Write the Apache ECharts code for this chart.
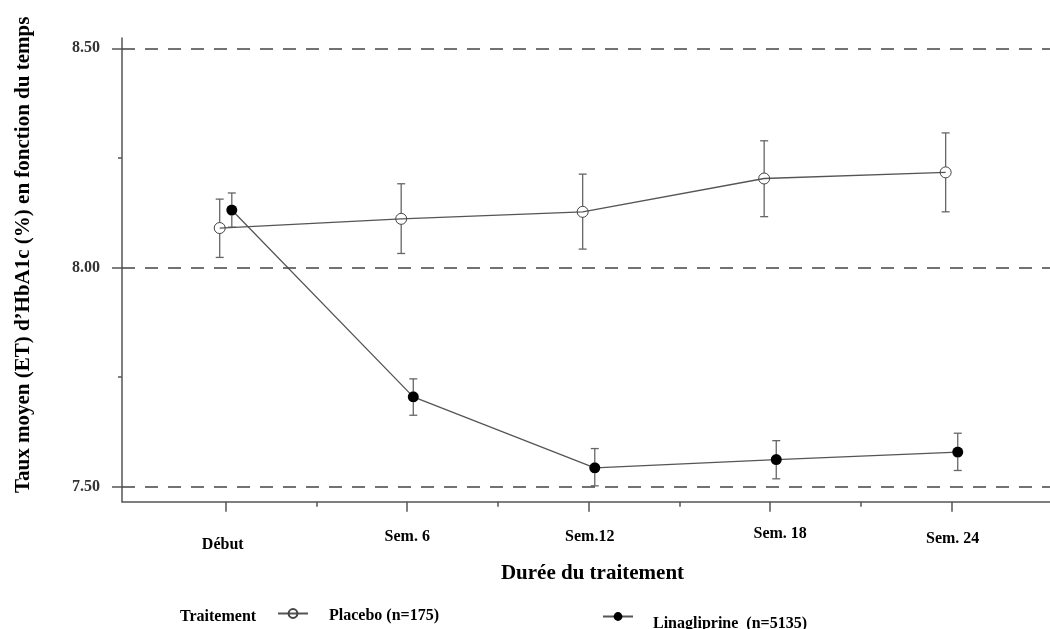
<!DOCTYPE html>
<html>
<head>
<meta charset="utf-8">
<script src="https://cdn.jsdelivr.net/npm/echarts@6/dist/echarts.min.js"></script>
<style>html,body{margin:0;padding:0;background:#fff}#c{width:1050px;height:629px}</style>
</head>
<body>
<div id="c"></div>
<script>
const weeks = [0, 6, 12, 18, 24];
const categories = ['Début', 'Sem. 6', 'Sem.12', 'Sem. 18', 'Sem. 24'];
const placeboMean = [8.090, 8.111, 8.127, 8.203, 8.217];
const placeboLow  = [8.023, 8.032, 8.042, 8.116, 8.127];
const placeboHigh = [8.156, 8.191, 8.213, 8.289, 8.307];
const linaMean = [8.131, 7.705, 7.543, 7.562, 7.579];
const linaLow  = [8.092, 7.663, 7.502, 7.518, 7.537];
const linaHigh = [8.170, 7.746, 7.587, 7.605, 7.622];
const yMajorTicks = [7.5, 8.0, 8.5];
const yMinorTicks = [7.75, 8.25];
const xMinorTicks = [3, 9, 15, 21];
const yLabels = ['7.50', '8.00', '8.50'];
const placeboName = 'Placebo (n=175)';
const linaName = 'Linagliprine  (n=5135)';

const FONT = '"Liberation Serif", "DejaVu Serif", serif';
const DODGE = 0.2;
const YMIN = 7.4658, YMAX = 8.5235, XMIN = -3.43, XMAX = 27.25;

const placeboPts = weeks.map((w, i) => [w - DODGE, placeboMean[i]]);
const linaPts = weeks.map((w, i) => [w + DODGE, linaMean[i]]);
const placeboErr = weeks.map((w, i) => [w - DODGE, placeboMean[i], placeboLow[i], placeboHigh[i]]);
const linaErr = weeks.map((w, i) => [w + DODGE, linaMean[i], linaLow[i], linaHigh[i]]);

function errRender(params, api) {
  const x = api.value(0), m = api.value(1), lo = api.value(2), hi = api.value(3);
  const pm = api.coord([x, m]), pl = api.coord([x, lo]), ph = api.coord([x, hi]);
  const r = 5.5, w = 4;
  const st = { stroke: '#666', lineWidth: 1.3 };
  return { type: 'group', children: [
    { type: 'line', shape: { x1: pm[0], y1: ph[1], x2: pm[0], y2: pm[1] - r }, style: st },
    { type: 'line', shape: { x1: pm[0], y1: pm[1] + r, x2: pm[0], y2: pl[1] }, style: st },
    { type: 'line', shape: { x1: pm[0] - w, y1: ph[1], x2: pm[0] + w, y2: ph[1] }, style: st },
    { type: 'line', shape: { x1: pm[0] - w, y1: pl[1], x2: pm[0] + w, y2: pl[1] }, style: st }
  ]};
}

function tok(pad) {
  return { fontFamily: FONT, fontWeight: 'bold', fontSize: 16, color: '#000', lineHeight: 18, padding: pad };
}
const labelRich = {
  d:  tok([22, 6, 0, 0]),
  s6: tok([6, 0, 0, 0]),
  s12: tok([6, 0, 0, 2]),
  s18: tok([0, 0, 0, 20]),
  s24: tok([10, 0, 0, 2])
};
const richKeys = ['d', 's6', 's12', 's18', 's24'];

const chart = echarts.init(document.getElementById('c'), null, { renderer: 'canvas' });
chart.setOption({
  animation: false,
  backgroundColor: '#fff',
  grid: { left: 122, right: 0, top: 38, bottom: 127.3, containLabel: false },
  xAxis: [{
    type: 'value', min: XMIN, max: XMAX,
    name: 'Durée du traitement', nameLocation: 'middle', nameGap: 61,
    nameTextStyle: { fontFamily: FONT, fontWeight: 'bold', fontSize: 21, color: '#000', padding: [0, 0, 0, 13] },
    axisLine: { show: true, onZero: false, lineStyle: { color: '#555', width: 1.5 } },
    axisTick: { show: true, length: 10, customValues: weeks, lineStyle: { color: '#555', width: 1.5 } },
    axisLabel: {
      show: true, margin: 23, customValues: weeks,
      formatter: v => { const i = weeks.indexOf(v); return i < 0 ? '' : '{' + richKeys[i] + '|' + categories[i] + '}'; },
      rich: labelRich
    },
    splitLine: { show: false }
  }, {
    type: 'value', min: XMIN, max: XMAX, position: 'bottom',
    axisLine: { show: false, onZero: false },
    axisTick: { show: true, length: 5, customValues: xMinorTicks, lineStyle: { color: '#555', width: 1.5 } },
    axisLabel: { show: false },
    splitLine: { show: false }
  }],
  yAxis: [{
    type: 'value', min: YMIN, max: YMAX,
    name: 'Taux moyen (ET) d’HbA1c (%) en fonction du temps', nameLocation: 'middle', nameGap: 88, nameRotate: 90,
    nameTextStyle: { fontFamily: FONT, fontWeight: 'bold', fontSize: 21, color: '#000', padding: [0, 0, 0, 30] },
    axisLine: { show: true, onZero: false, lineStyle: { color: '#555', width: 1.5 } },
    axisTick: { show: true, length: 10, customValues: yMajorTicks, lineStyle: { color: '#555', width: 1.5 } },
    axisLabel: {
      show: true, margin: 22, customValues: yMajorTicks,
      formatter: v => { const i = yMajorTicks.findIndex(t => Math.abs(t - v) < 1e-6); return i < 0 ? '' : yLabels[i]; },
      fontFamily: FONT, fontWeight: 'bold', fontSize: 16, color: '#333'
    },
    splitLine: { show: false }
  }, {
    type: 'value', min: YMIN, max: YMAX, position: 'left',
    axisLine: { show: false, onZero: false },
    axisTick: { show: true, length: 4, customValues: yMinorTicks, lineStyle: { color: '#555', width: 1.5 } },
    axisLabel: { show: false },
    splitLine: { show: false }
  }],
  legend: [{
    data: [placeboName], left: 277, top: 603.5, padding: 0, itemWidth: 30, itemHeight: 11,
    formatter: n => '{a|' + n + '}',
    textStyle: { rich: { a: { fontFamily: FONT, fontWeight: 'bold', fontSize: 16, color: '#000', lineHeight: 16, padding: [4, 0, 0, 16] } } }
  }, {
    data: [linaName], left: 602, top: 601.5, padding: 0, itemWidth: 30, itemHeight: 11,
    formatter: n => '{a|' + n + '}',
    textStyle: { rich: { a: { fontFamily: FONT, fontWeight: 'bold', fontSize: 16, color: '#000', lineHeight: 16, padding: [14, 0, 0, 15] } } }
  }],
  graphic: [{
    type: 'text', left: 180, top: 609,
    style: { text: 'Traitement', fontFamily: FONT, fontWeight: 'bold', fontSize: 16, fill: '#000' }
  }],
  series: [{
    type: 'custom', name: 'errP', renderItem: errRender, data: placeboErr,
    encode: { x: 0, y: [1, 2, 3] }, silent: true, z: 2
  }, {
    type: 'custom', name: 'errL', renderItem: errRender, data: linaErr,
    encode: { x: 0, y: [1, 2, 3] }, silent: true, z: 2
  }, {
    type: 'line', name: placeboName, data: placeboPts, z: 3,
    symbol: 'circle', symbolSize: 11,
    lineStyle: { color: '#555', width: 1.3 },
    itemStyle: { color: 'rgba(255,255,255,0)', borderColor: '#444', borderWidth: 1 },
    markLine: {
      silent: true, symbol: 'none', label: { show: false },
      lineStyle: { type: [13, 10], color: '#444', width: 1.5 },
      data: yMajorTicks.map(v => ({ yAxis: v }))
    }
  }, {
    type: 'line', name: linaName, data: linaPts, z: 4,
    symbol: 'circle', symbolSize: 11,
    lineStyle: { color: '#555', width: 1.3 },
    itemStyle: { color: '#000', borderColor: '#000', borderWidth: 0 }
  }]
});
</script>
</body>
</html>
